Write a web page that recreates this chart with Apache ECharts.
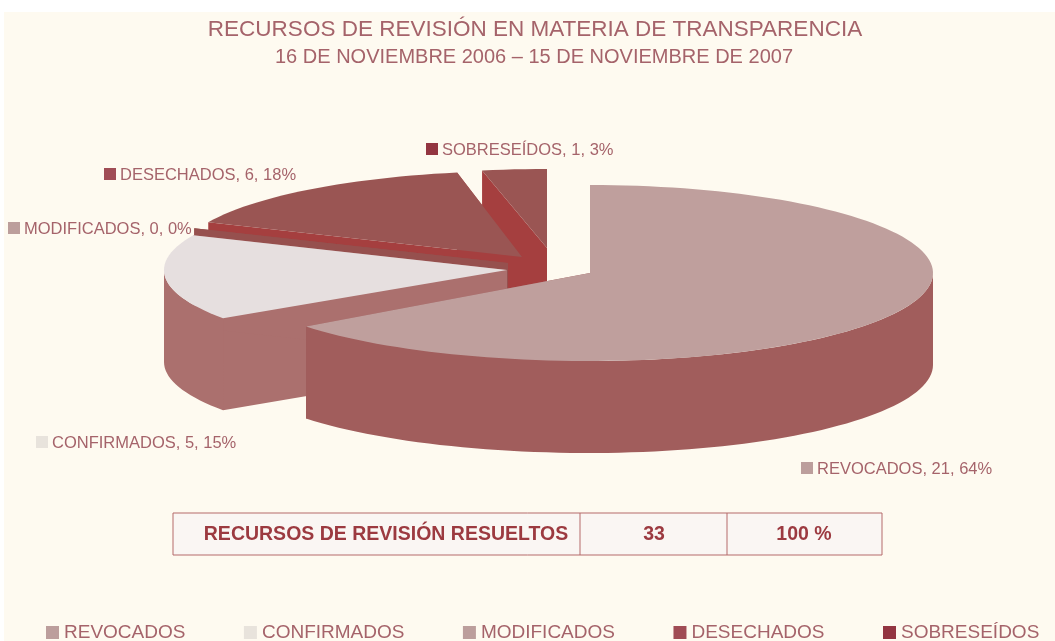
<!DOCTYPE html>
<html>
<head>
<meta charset="utf-8">
<title>Recursos de revisión</title>
<style>
  html, body { margin: 0; padding: 0; background: #fff; }
  #chart { width: 1055px; height: 641px; }
</style>
</head>
<body>
<div id="chart"></div>
<script src="https://cdn.jsdelivr.net/npm/echarts@6/dist/echarts.min.js"></script>
<script>
const categories = ["REVOCADOS", "CONFIRMADOS", "MODIFICADOS", "DESECHADOS", "SOBRESEÍDOS"];
const values = [21, 5, 0, 6, 1];
const tableRow = ["RECURSOS DE REVISIÓN RESUELTOS", "33", "100 %"];
const titleText = "RECURSOS DE REVISIÓN EN MATERIA DE TRANSPARENCIA";
const subtitleText = "16 DE NOVIEMBRE 2006 – 15 DE NOVIEMBRE DE 2007";

const topColors = ["#bf9f9d", "#e6dfdf", "#96514f", "#9a5553", "#9a5553"];
const wallColors = ["#a15d5c", "#ab706e", "#96504e", "#a53f3f", "#a53f3f"];
const keyColors = ["#bc9e9c", "#e8e3dc", "#bc9e9c", "#a04c55", "#933541"];

// pie slices are pulled apart: apex of each slice, and radii of the squashed circle
const apex = [[590, 273], [507, 270], [508, 263], [522, 257], [547, 248]];
const radiusLeft = [358, 343, 343, 343, 343];
const radiusRight = [343, 343, 343, 343, 343];
const radiusY = [88, 86, 86, 86, 79];
const depth = 92;
// the tilted view of the original shifts the cut lines a little (degrees)
const nudgeStart = [0, 6.8, 10.2, 10.2, 0];
const nudgeEnd = [3.4, 10.2, 10.2, 0, 0];
const labelPos = [[801, 468], [36, 442], [8, 228], [104, 174], [426, 149]];
// back slices are painted first
const paintOrder = [4, 3, 2, 1, 0];

const total = values.reduce((a, b) => a + b, 0);
const textColor = "#a5636a";
const font = "Liberation Sans";

function rimPoint(i, deg) {
  const rad = deg * Math.PI / 180;
  const s = Math.sin(rad);
  const rx = s < 0 ? radiusLeft[i] : radiusRight[i];
  return [apex[i][0] + rx * s, apex[i][1] - radiusY[i] * Math.cos(rad)];
}

function arcPoints(i, from, to) {
  const pts = [];
  const steps = Math.max(1, Math.ceil((to - from) / 2));
  for (let k = 0; k <= steps; k++) pts.push(rimPoint(i, from + (to - from) * k / steps));
  return pts;
}

function renderSlice(i, api) {
  const value = api.value(0);
  let before = 0;
  for (let k = 0; k < i; k++) before += values[k];
  const from = before / total * 360 + nudgeStart[i];
  const to = (before + value) / total * 360 + nudgeEnd[i];

  const rim = arcPoints(i, from, to);
  const down = p => [p[0], p[1] + depth];
  const a = apex[i];
  const first = rim[0];
  const last = rim[rim.length - 1];
  const wall = { fill: wallColors[i] };
  const children = [
    { type: "polygon", shape: { points: [a, first, down(first), down(a)] }, style: wall },
    { type: "polygon", shape: { points: [a, last, down(last), down(a)] }, style: wall }
  ];

  // only the front half of the rim shows an outer wall
  const frontFrom = Math.max(from, 90);
  const frontTo = Math.min(to, 270);
  if (frontTo > frontFrom) {
    const front = arcPoints(i, frontFrom, frontTo);
    children.push({ type: "polygon", shape: { points: front.concat(front.map(down).reverse()) }, style: wall });
  }
  children.push({ type: "polygon", shape: { points: [a].concat(rim) }, style: { fill: topColors[i] } });

  const label = categories[i] + ", " + value + ", " + Math.round(value / total * 100) + "%";
  const [lx, ly] = labelPos[i];
  children.push(
    { type: "rect", shape: { x: lx, y: ly - 6, width: 12, height: 12 }, style: { fill: keyColors[i] } },
    {
      type: "text", x: lx + 16, y: ly + 1,
      style: { text: label, fill: textColor, font: "16.5px '" + font + "'", verticalAlign: "middle" }
    }
  );
  return { type: "group", children };
}

const chart = echarts.init(document.getElementById("chart"), null, { renderer: "canvas" });

const tableFont = "bold 19.5px '" + font + "'";
const tableInk = "#9c3a40";

chart.setOption({
  animation: false,
  backgroundColor: "#ffffff",
  title: [
    { text: titleText, left: 530, top: 13, textAlign: "center",
      textStyle: { color: textColor, fontFamily: font, fontWeight: "normal", fontSize: 22.5 } },
    { text: subtitleText, left: 529, top: 42, textAlign: "center",
      textStyle: { color: textColor, fontFamily: font, fontWeight: "normal", fontSize: 20 } }
  ],
  legend: {
    data: categories,
    left: 41,
    top: 618,
    width: 1010,
    itemWidth: 13,
    itemHeight: 13,
    itemGap: 58.5,
    icon: "rect",
    textStyle: { color: textColor, fontFamily: font, fontSize: 19 },
    selectedMode: false
  },
  graphic: [
    { type: "rect", z: -10, shape: { x: 4, y: 12, width: 1051, height: 629 }, style: { fill: "#fefaf0" } },
    { type: "rect", shape: { x: 173, y: 513, width: 709, height: 42 }, style: { fill: "#faf6f3", stroke: "#b56a6a", lineWidth: 1 } },
    { type: "line", shape: { x1: 580, y1: 513, x2: 580, y2: 555 }, style: { stroke: "#b56a6a", lineWidth: 1 } },
    { type: "line", shape: { x1: 727, y1: 513, x2: 727, y2: 555 }, style: { stroke: "#b56a6a", lineWidth: 1 } },
    { type: "text", x: 386, y: 535, style: { text: tableRow[0], fill: tableInk, font: tableFont, align: "center", verticalAlign: "middle" } },
    { type: "text", x: 654, y: 535, style: { text: tableRow[1], fill: tableInk, font: tableFont, align: "center", verticalAlign: "middle" } },
    { type: "text", x: 804, y: 535, style: { text: tableRow[2], fill: tableInk, font: tableFont, align: "center", verticalAlign: "middle" } }
  ],
  series: paintOrder.map((i, rank) => ({
    type: "custom",
    name: categories[i],
    coordinateSystem: "none",
    z: 2 + rank,
    silent: true,
    itemStyle: { color: keyColors[i] },
    data: [[values[i]]],
    renderItem: (params, api) => renderSlice(i, api)
  }))
});

window.addEventListener("resize", () => chart.resize());
</script>
</body>
</html>
